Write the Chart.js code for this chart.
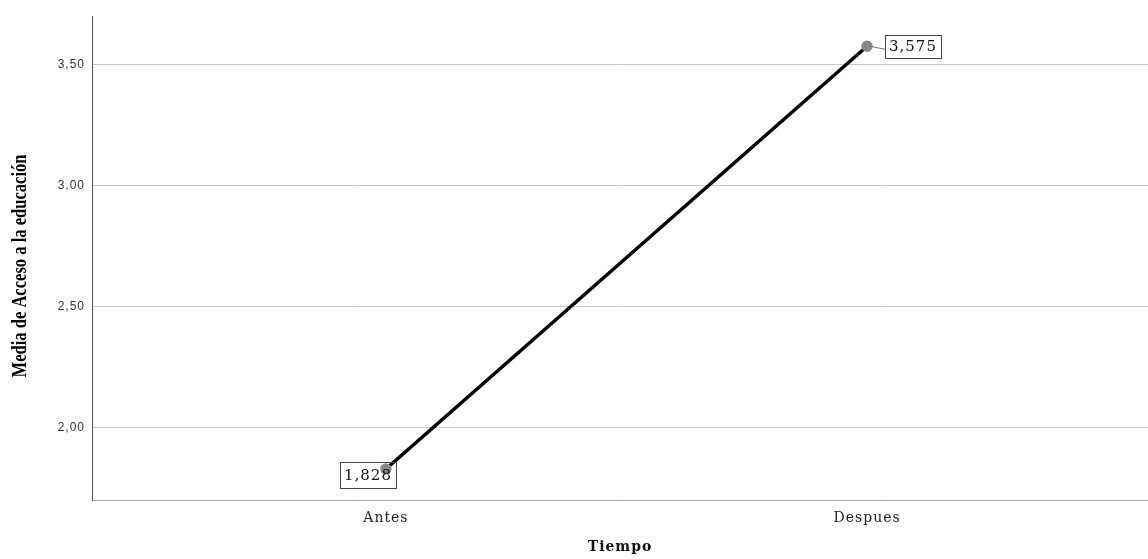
<!DOCTYPE html>
<html>
<head>
<meta charset="utf-8">
<script src="https://cdn.jsdelivr.net/npm/chart.js@4/dist/chart.umd.min.js"></script>
<style>
  html, body { margin: 0; padding: 0; background: #fff; }
  #wrap { width: 1148px; height: 559px; }
</style>
</head>
<body>
<div id="wrap"><canvas id="chart" width="1148" height="559"></canvas></div>
<script>
// data
const categories = ["Antes", "Despues"];
const means = [1.828, 3.575];
const meanLabels = ["1,828", "3,575"];
const yTicks = [2.0, 2.5, 3.0, 3.5];
const yTitle = "Media de Acceso a la educación";

const serif = "'DejaVu Serif', serif";
const times = "'Liberation Serif', 'Times New Roman', serif";
const sans = "'Liberation Sans', Arial, sans-serif";

// the reference text is a bit spaced out, so widen letters for everything
const spacing = {
  id: "spacing",
  beforeDraw(chart) { chart.ctx.letterSpacing = "1px"; }
};

// y title drawn by hand: tall condensed Times bold
const sideTitle = {
  id: "sideTitle",
  afterDraw(chart) {
    const ctx = chart.ctx;
    ctx.save();
    ctx.letterSpacing = "0px";
    ctx.font = "bold 20px " + times;
    const k = 223 / ctx.measureText(yTitle).width;
    ctx.translate(21, 266);
    ctx.rotate(-Math.PI / 2);
    ctx.scale(k, 1);
    ctx.fillStyle = "#000";
    ctx.textAlign = "center";
    ctx.textBaseline = "middle";
    ctx.fillText(yTitle, 0, 0);
    ctx.restore();
  }
};

// boxed value labels next to each point
const boxLabels = {
  id: "boxLabels",
  afterDatasetsDraw(chart) {
    const ctx = chart.ctx;
    const pts = chart.getDatasetMeta(0).data;
    ctx.save();
    ctx.letterSpacing = "1px";
    ctx.font = "15px " + serif;
    ctx.textBaseline = "middle";
    pts.forEach((p, i) => {
      const txt = meanLabels[i];
      const w = Math.round(ctx.measureText(txt).width + 8);
      let bx, by, h;
      if (i === 0) {
        h = 26;
        bx = Math.round(p.x + 10 - w);
        by = Math.round(p.y - 7);
      } else {
        h = 23;
        bx = Math.round(p.x + 18);
        by = Math.round(p.y - 11);
        ctx.strokeStyle = "#777";
        ctx.lineWidth = 1;
        ctx.beginPath();
        ctx.moveTo(p.x + 3, p.y);
        ctx.lineTo(bx, p.y + 3);
        ctx.stroke();
      }
      ctx.strokeStyle = "#444";
      ctx.lineWidth = 1;
      ctx.strokeRect(bx + 0.5, by + 0.5, w, h);
      ctx.fillStyle = "#111";
      ctx.textAlign = "left";
      ctx.fillText(txt, bx + 4, by + h / 2 + 1);
    });
    ctx.restore();
  }
};

const ctx = document.getElementById("chart").getContext("2d");
new Chart(ctx, {
  type: "line",
  data: {
    datasets: [{
      data: means.map((v, i) => ({ x: i + 1, y: v })),
      borderColor: "#000",
      borderWidth: 3.5,
      pointBackgroundColor: "#888",
      pointBorderColor: "#888",
      pointRadius: 4,
      tension: 0,
      clip: false
    }]
  },
  options: {
    responsive: false,
    animation: false,
    layout: { autoPadding: false, padding: { top: 16, right: 0, left: 0, bottom: 0 } },
    plugins: { legend: { display: false }, tooltip: { enabled: false } },
    scales: {
      x: {
        type: "linear",
        min: 0.389,
        max: 2.584,
        afterBuildTicks: (s) => { s.ticks = categories.map((c, i) => ({ value: i + 1 })); },
        afterFit: (s) => { s.height = 59; s.paddingLeft = 0; s.paddingRight = 0; },
        ticks: {
          callback: (v) => categories[v - 1] || "",
          font: { family: serif, size: 14 },
          color: "#222",
          padding: 10,
          maxRotation: 0
        },
        grid: { display: false, drawTicks: false },
        border: { color: "#aaa", width: 1 },
        title: {
          display: true,
          text: "Tiempo",
          font: { family: serif, size: 14, weight: "bold" },
          color: "#111",
          padding: { top: 0, bottom: 3 }
        }
      },
      y: {
        min: 1.70,
        max: 3.70,
        afterBuildTicks: (s) => { s.ticks = yTicks.map((v) => ({ value: v })); },
        afterFit: (s) => { s.width = 92; s.paddingTop = 0; s.paddingBottom = 0; },
        ticks: {
          callback: (v) => v.toFixed(2).replace(".", ","),
          font: { family: sans, size: 12 },
          color: "#333",
          padding: 7
        },
        grid: { color: "#c8c8c8", lineWidth: 1, drawTicks: false },
        border: { color: "#555", width: 1 }
      }
    }
  },
  plugins: [spacing, sideTitle, boxLabels]
});
</script>
</body>
</html>
